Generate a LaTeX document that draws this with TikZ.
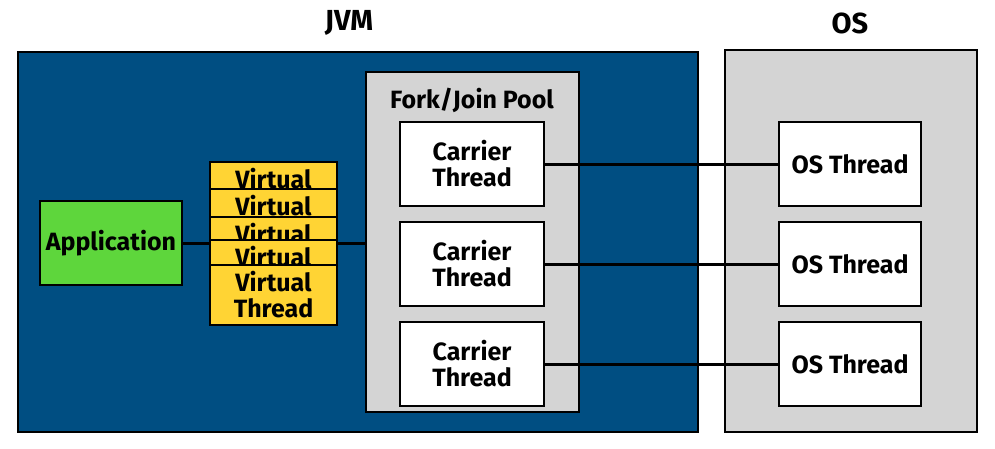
\documentclass[tikz,border=0pt]{standalone}
\usepackage{fontspec}
\setmainfont{Fira Sans}
\definecolor{jvmblue}{RGB}{0,78,130}
\definecolor{poolgray}{RGB}{212,212,212}
\definecolor{vtyellow}{RGB}{255,212,52}
\definecolor{appgreen}{RGB}{94,214,60}
\tikzset{
  box/.style={draw=black, line width=2pt, inner sep=0pt, align=center,
    font=\bfseries\fontsize{25}{26}\selectfont},
  title/.style={font=\bfseries\fontsize{29}{30}\selectfont},
  thread/.style={box, fill=white, minimum width=144pt, minimum height=84pt},
  vthread/.style={box, fill=vtyellow, minimum width=127pt, minimum height=60pt},
  vhidden/.style={vthread, text height=26pt, text depth=34pt},
  link/.style={line width=3pt}
}
\begin{document}
\begin{tikzpicture}[x=1pt,y=-1pt]
    \useasboundingbox (0,0) rectangle (995,448);

    \node[title] (jvmlabel) at (349,23) {JVM};
    \node[title] (oslabel) at (850,23) {OS};

    \node[box, fill=jvmblue, minimum width=680pt, minimum height=380pt] (jvm) at (358,242) {};
    \node[box, fill=poolgray, minimum width=252pt, minimum height=382pt] (os) at (851,241) {};

    \node[box, fill=poolgray, minimum width=213pt, minimum height=340pt] (pool) at (472.5,242) {};
    \node[box, draw=none] (poollabel) at (472,100) {Fork/Join Pool};

    \node[thread] (carrier1) at (472,164) {Carrier\\Thread};
    \node[thread] (carrier2) at (472,264) {Carrier\\Thread};
    \node[thread] (carrier3) at (472,364) {Carrier\\Thread};

    \node[thread, minimum width=142pt] (osthread1) at (850,164) {OS Thread};
    \node[thread, minimum width=142pt] (osthread2) at (850,264) {OS Thread};
    \node[thread, minimum width=142pt] (osthread3) at (850,364) {OS Thread};

    \node[box, fill=appgreen, minimum width=142pt, minimum height=84pt] (app) at (111,243) {Application};

    % links
    \draw[link] (app.east) -- (app.east -| pool.west);
    \draw[link] (carrier1.east) -- (osthread1.west);
    \draw[link] (carrier2.east) -- (osthread2.west);
    \draw[link] (carrier3.east) -- (osthread3.west);

    % stacked virtual threads
    \node[vhidden] (vt1) at (273.5,192) {Virtual};
    \node[vhidden] (vt2) at (273.5,219) {Virtual};
    \node[vhidden] (vt3) at (273.5,247) {Virtual};
    \node[vhidden] (vt4) at (273.5,270) {Virtual};
    \node[vthread] (vt5) at (273.5,295) {Virtual\\Thread};

\end{tikzpicture}
\end{document}
